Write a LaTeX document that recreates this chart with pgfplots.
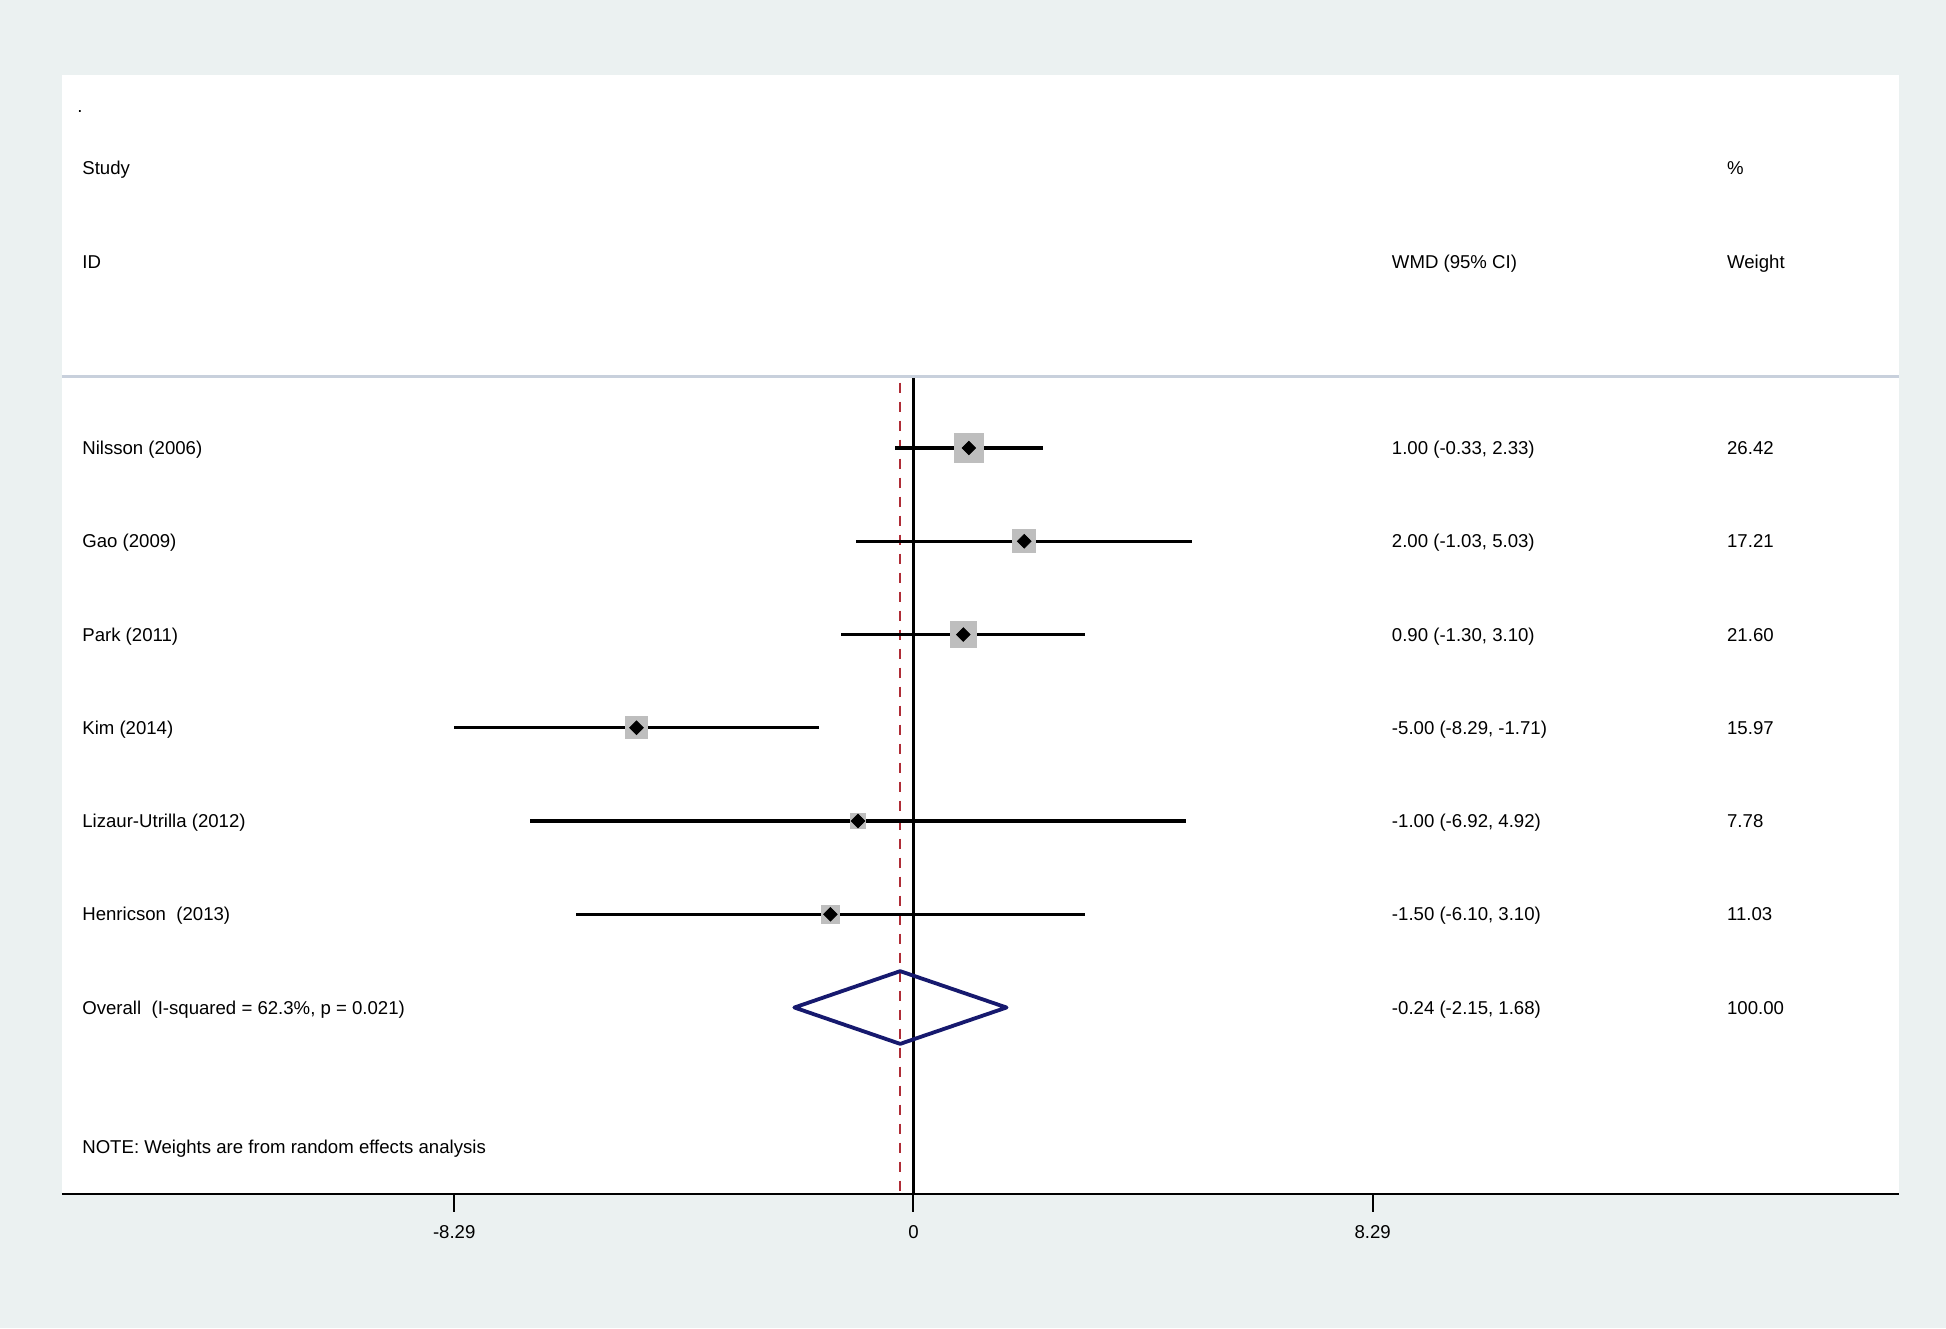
\documentclass[border=0pt]{standalone}
\usepackage{pgfplots}
\pgfplotsset{compat=1.18}
\usepackage{pgfplotstable}
\usepackage{fontspec}
\setmainfont{Liberation Sans}

\definecolor{bgc}{RGB}{235,241,241}
\definecolor{sepc}{RGB}{200,208,220}
\definecolor{boxgray}{RGB}{190,190,190}
\definecolor{refred}{RGB}{175,45,55}
\definecolor{pooled}{RGB}{22,25,110}
\newcommand\rowfont{\fontsize{9.3}{11}\selectfont}

% row = position from the top, in row units
\pgfplotstableread[col sep=semicolon]{
row;study;est;lo;hi;w;ci
4;Nilsson (2006);1.00;-0.33;2.33;26.42;1.00 (-0.33, 2.33)
5;Gao (2009);2.00;-1.03;5.03;17.21;2.00 (-1.03, 5.03)
6;Park (2011);0.90;-1.30;3.10;21.60;0.90 (-1.30, 3.10)
7;Kim (2014);-5.00;-8.29;-1.71;15.97;-5.00 (-8.29, -1.71)
8;Lizaur-Utrilla (2012);-1.00;-6.92;4.92;7.78;-1.00 (-6.92, 4.92)
9;Henricson\ \ (2013);-1.50;-6.10;3.10;11.03;-1.50 (-6.10, 3.10)
10;Overall\ \ (I-squared = 62.3\%, p = 0.021);-0.24;-2.15;1.68;100.00;-0.24 (-2.15, 1.68)
}\forest

\begin{document}
\begin{tikzpicture}[txt/.style={anchor=west, inner sep=0pt, font=\rowfont, text height=6.8pt, text depth=2pt, yshift=-0.9pt}]
\fill[bgc] (0,0) rectangle (973pt,664pt);
\path[use as bounding box] (0,0) rectangle (973pt,664pt);
\begin{axis}[
    at={(31pt,67pt)}, anchor=south west,
    scale only axis, width=918.5pt, height=559.5pt,
    xmin=-15.37, xmax=17.79,
    ymin=0, ymax=12, y dir=reverse,
    axis background/.style={fill=white},
    axis x line*=bottom, axis y line=none,
    axis line style={-, black, line width=1.3pt},
    xtick={-8.29,0,8.29}, xticklabels={-8.29,0,8.29},
    xtick align=outside, major tick length=8.8pt,
    xtick style={black, line width=1pt},
    xticklabel style={font=\rowfont, yshift=-3.4pt},
    ytick=\empty,
    clip=false,
    every node near coord/.style={txt},
]
% separator under the header
\addplot[sepc, line width=1.5pt] coordinates {(-15.37,3.23) (17.79,3.23)};
% no-effect line and pooled estimate line
\addplot[black, line width=1.5pt] coordinates {(0,3.25) (0,12)};
\addplot[refred, line width=1.1pt, dash pattern=on 5.2pt off 4.3pt] coordinates {(-0.24,3.3) (-0.24,12)};

% weight boxes
\addplot[scatter, only marks, mark=square*, restrict y to domain=4:9,
    mark options={rounded corners=1.3pt},
    scatter/use mapped color={draw=boxgray, fill=boxgray},
    visualization depends on={1.375*sqrt(\thisrow{w}) \as \msize},
    scatter/@pre marker code/.append style={/tikz/mark size=\msize}]
    table[x=est, y=row] {\forest};
% confidence intervals
\addplot[black, only marks, mark=none, restrict y to domain=4:9,
    error bars/.cd, x dir=both, x explicit, error mark=none,
    error bar style={black, line width=1.65pt}]
    table[x=est, y=row,
      x error plus expr=\thisrow{hi}-\thisrow{est},
      x error minus expr=\thisrow{est}-\thisrow{lo}] {\forest};
% point estimates
\addplot[black, only marks, mark=square*, mark size=2.4pt,
    mark options={rotate=45, fill=black}, restrict y to domain=4:9]
    table[x=est, y=row] {\forest};
% pooled diamond
\addplot[pooled, line width=1.9pt, line join=round]
    coordinates {(-2.15,10) (-0.24,9.61) (1.68,10) (-0.24,10.39)} -- cycle;

% text columns
\addplot[only marks, mark=none, nodes near coords, point meta=explicit symbolic]
    table[x expr=-15.01, y=row, meta=study] {\forest};
\addplot[only marks, mark=none, nodes near coords, point meta=explicit symbolic]
    table[x expr=8.63, y=row, meta=ci] {\forest};
\addplot[only marks, mark=none, nodes near coords, point meta=explicit symbolic]
    table[x expr=14.68, y=row, meta=w] {\forest};

\node[txt] at (axis cs:-15.1,0.33) {.};
\node[txt] at (axis cs:-15.01,1) {Study};
\node[txt] at (axis cs:-15.01,2) {ID};
\node[txt] at (axis cs:14.68,1) {\%};
\node[txt] at (axis cs:8.63,2) {WMD (95\% CI)};
\node[txt] at (axis cs:14.68,2) {Weight};
\node[txt] at (axis cs:-15.01,11.49) {NOTE: Weights are from random effects analysis};
\end{axis}
\end{tikzpicture}
\end{document}
